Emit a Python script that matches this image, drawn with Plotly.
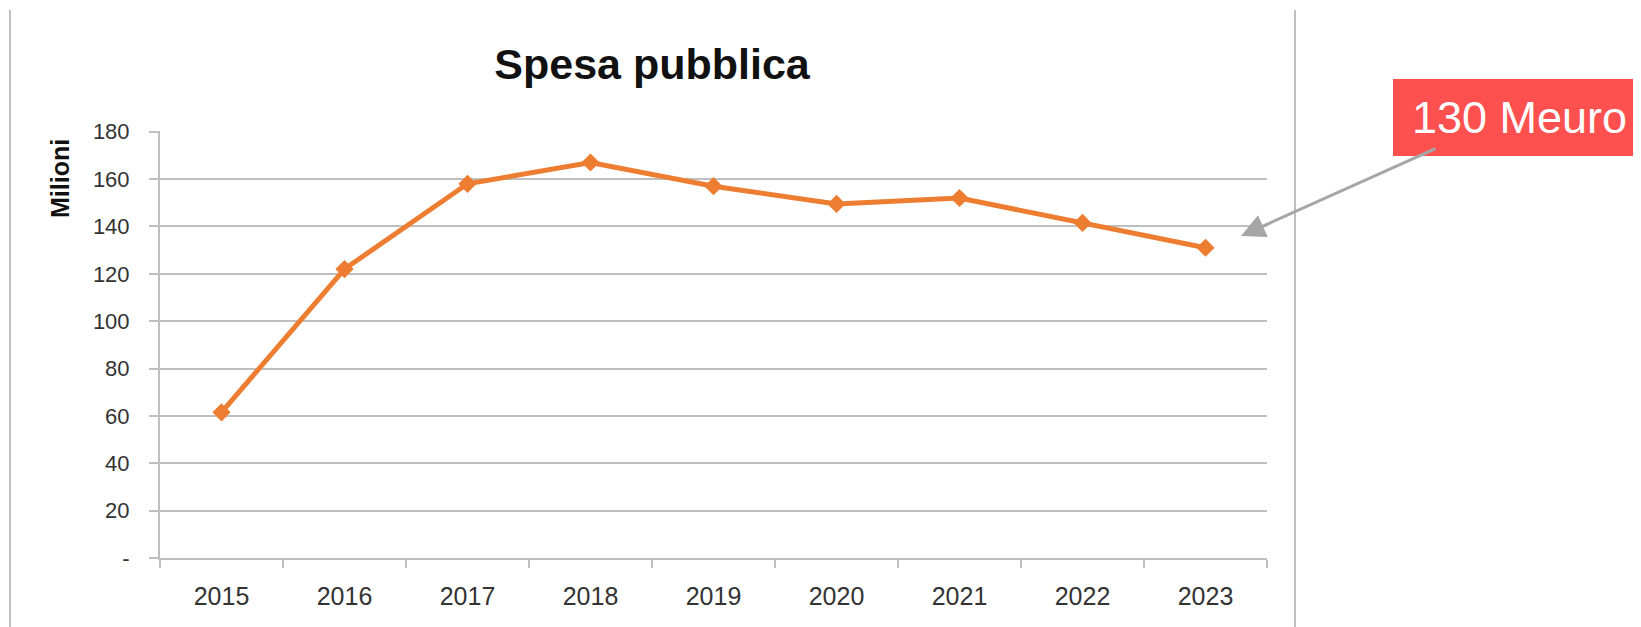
import plotly.graph_objects as go

years = ["2015", "2016", "2017", "2018", "2019", "2020", "2021", "2022", "2023"]
spesa = [61.5, 122, 158, 167, 157, 149.5, 152, 141.5, 131]
y_tickvals = [0, 20, 40, 60, 80, 100, 120, 140, 160, 180]
y_ticktext = ["-", "20", "40", "60", "80", "100", "120", "140", "160", "180"]
title_text = "Spesa pubblica"
y_title = "Milioni"
callout_text = "130 Meuro"

OFF = 8  # default page body margin
W, H = 1641, 627 - OFF
L, R, T, B = 160 - OFF, 1267 - OFF, 131 - OFF, 558 - OFF
pw, ph = R - L, B - T

def px(p):
    return (p - OFF - L) / pw

def py(q):
    return (B - (q - OFF)) / ph

grid = "#BFBFBF"
fig = go.Figure()
fig.add_trace(go.Scatter(
    x=years, y=spesa, mode="lines+markers",
    line=dict(color="#ED7D31", width=5),
    marker=dict(symbol="diamond", size=14, color="#ED7D31"),
    showlegend=False, hoverinfo="x+y",
))

fig.update_layout(
    width=W, height=H,
    margin=dict(l=L, r=W - R, t=T, b=H - B),
    paper_bgcolor="white", plot_bgcolor="white",
    title=dict(text=f"<b>{title_text}</b>", x=(652 - OFF) / W, xanchor="center",
               y=1 - (64 - OFF) / H, yanchor="middle",
               font=dict(family="Liberation Sans, Arial", size=43, color="#111111")),
    xaxis=dict(type="category", range=[-0.5, 8.5], showgrid=False,
               showline=True, linecolor=grid, linewidth=2,
               ticks="outside", tickson="boundaries", ticklen=8, tickcolor=grid, tickwidth=2,
               ticklabelstandoff=15,
               tickfont=dict(family="Liberation Sans, Arial", size=25, color="#333333")),
    yaxis=dict(range=[0, 180.3], tickvals=y_tickvals, ticktext=y_ticktext,
               showgrid=True, gridcolor=grid, gridwidth=2,
               showline=True, linecolor=grid, linewidth=2, zeroline=False,
               ticks="outside", ticklen=9, tickcolor=grid, tickwidth=2,
               ticklabelstandoff=15,
               tickfont=dict(family="Liberation Sans, Arial", size=22, color="#333333")),
)

fig.add_annotation(text=f"<b>{y_title}</b>", textangle=-90, xref="paper", yref="paper",
                   x=px(60), y=py(179), xanchor="center", yanchor="middle", showarrow=False,
                   font=dict(family="Liberation Sans, Arial", size=25, color="#111111"))

# frame lines (cropped chart border)
for xp in (10, 1295):
    fig.add_shape(type="line", xref="paper", yref="paper",
                  x0=px(xp), x1=px(xp), y0=py(10), y1=py(640),
                  line=dict(color="#BFBFBF", width=2))

# callout box
fig.add_shape(type="rect", xref="paper", yref="paper",
              x0=px(1393), x1=px(1660), y0=py(156), y1=py(79),
              fillcolor="#FF5050", line=dict(width=0), layer="above")
fig.add_annotation(text=callout_text, xref="paper", yref="paper",
                   x=px(1519), y=py(117.5), xanchor="center", yanchor="middle",
                   showarrow=False,
                   font=dict(family="Liberation Sans, Arial", size=45, color="white"))

# arrow
fig.add_annotation(text="", xref="paper", yref="paper", x=px(1241), y=py(236),
                   ax=1437 - 1241, ay=148 - 236, axref="pixel", ayref="pixel",
                   showarrow=True, arrowhead=2, arrowsize=1.6, arrowwidth=3,
                   arrowcolor="#A6A6A6", standoff=0)

fig.write_html("out.html")
